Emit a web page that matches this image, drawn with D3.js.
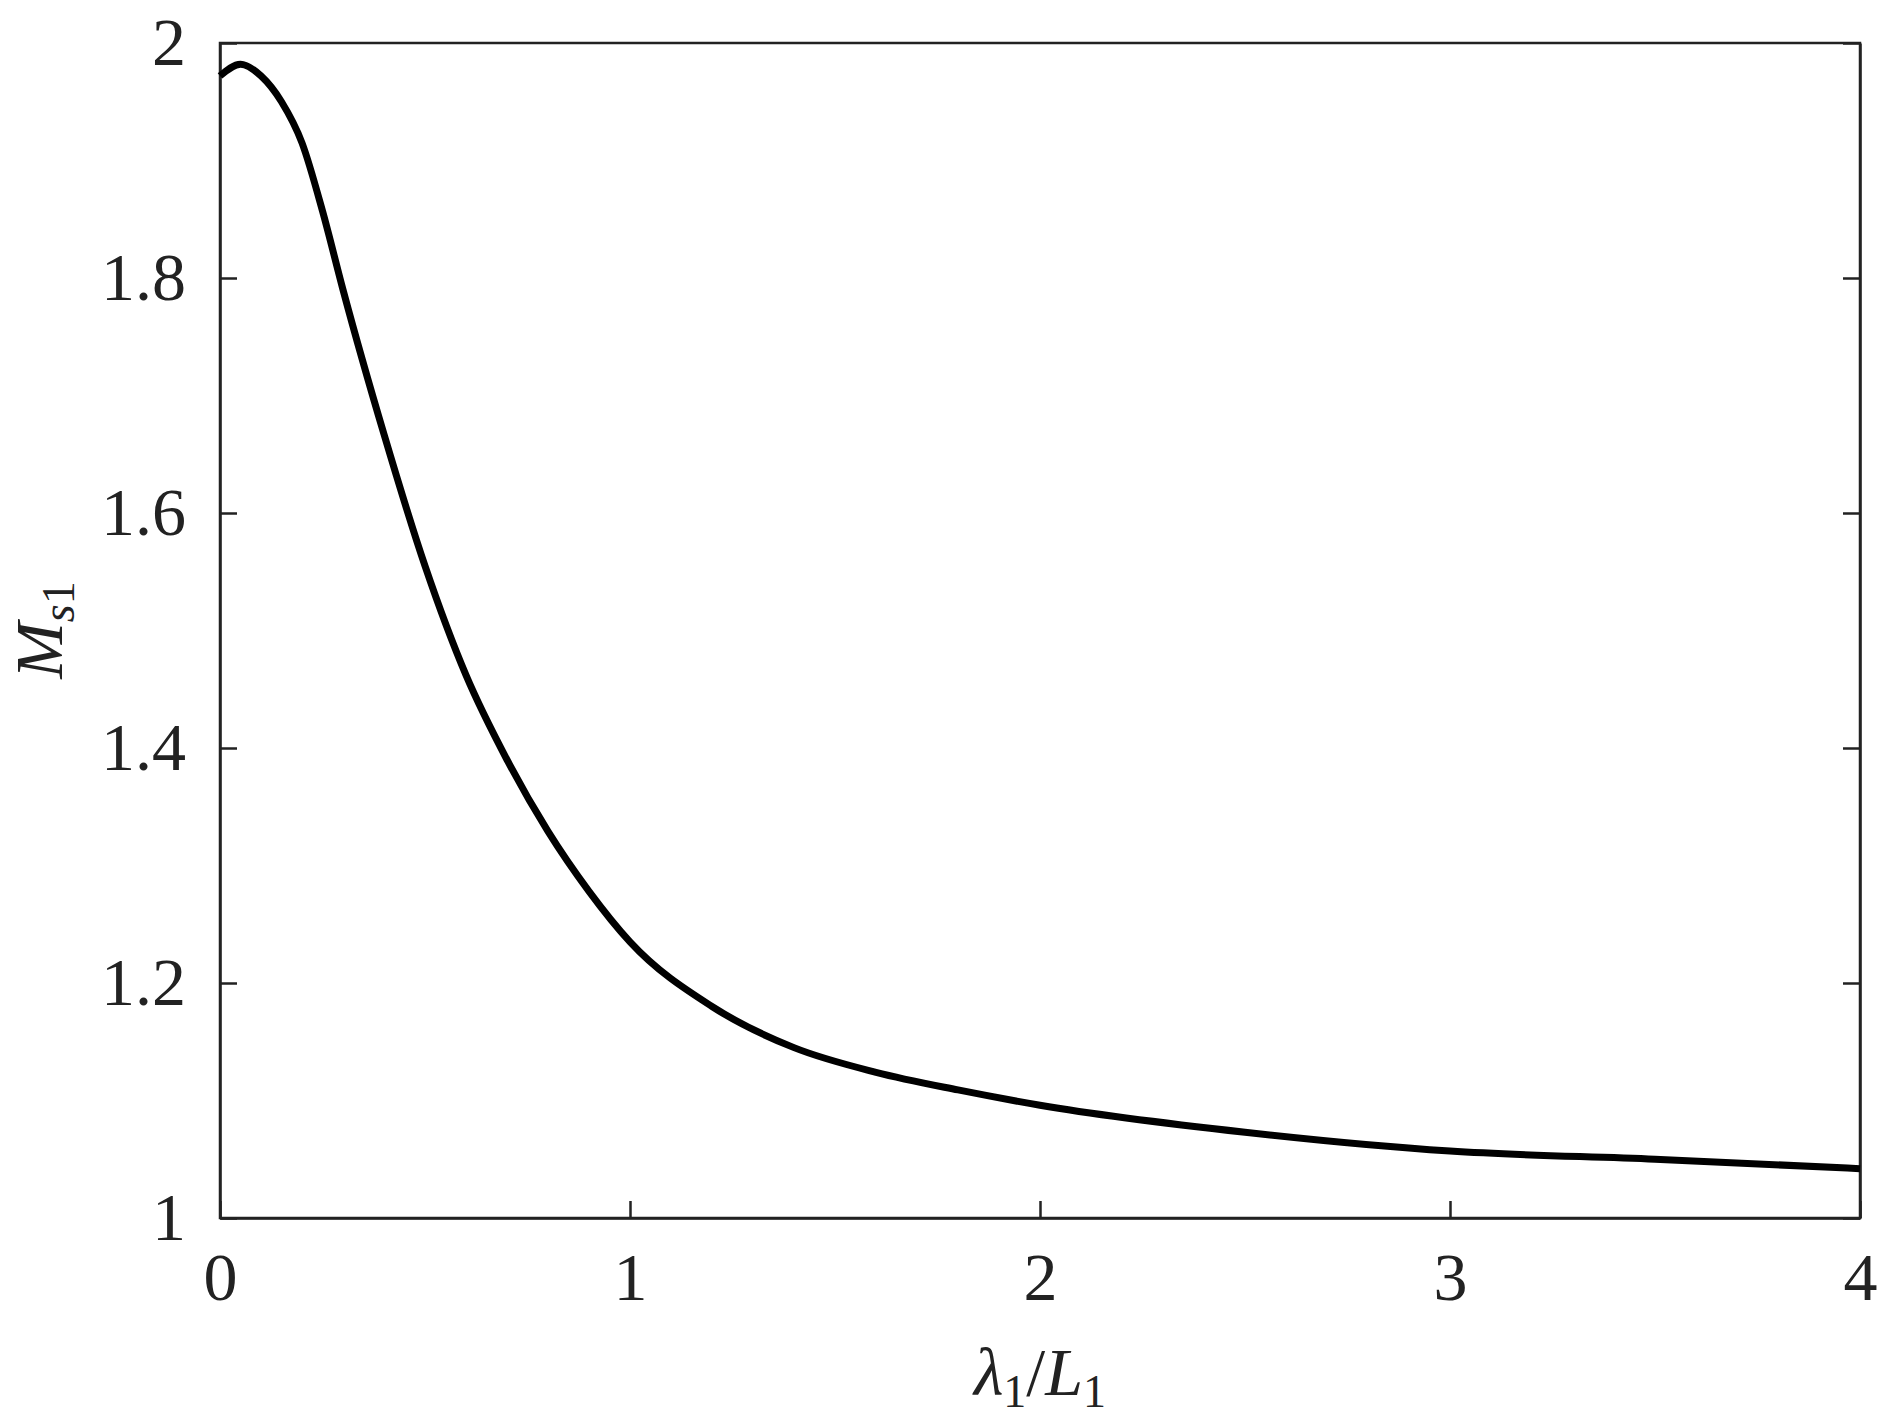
<!DOCTYPE html><html><head><meta charset="utf-8"><script src="https://cdn.jsdelivr.net/npm/d3@7"></script>
<style>body{margin:0;background:#fff}text{font-family:"Liberation Serif","Times New Roman",serif;fill:#222}</style></head><body><svg id="c" width="1888" height="1422"></svg><script>
const xVals=[0,0.05,0.1,0.15,0.2,0.25,0.3,0.4,0.5,0.6,0.7,0.8,0.9,1.0,1.2,1.4,1.6,1.8,2.0,2.5,3.0,3.5,4.0];
const yVals=[1.972,1.982,1.972,1.95,1.915,1.857,1.79,1.667,1.555,1.462,1.39,1.329,1.278,1.235,1.18,1.145,1.124,1.109,1.096,1.073,1.057,1.05,1.042];
const xTicks=[0,1,2,3,4];
const yTicks=[1,1.2,1.4,1.6,1.8,2];
const svg=d3.select("#c");
const L=220,R=1860,T=43,B=1218;
const x=d3.scaleLinear().domain([0,4]).range([L,R]);
const y=d3.scaleLinear().domain([1,2]).range([B,T]);
const fmt=d=>d===0||d===1||d===2||d===3||d===4?String(d):d3.format(".1f")(d);
svg.append("g").attr("transform",`translate(0,${B})`).call(d3.axisBottom(x).tickValues(xTicks).tickFormat(fmt).tickSizeInner(-17).tickSizeOuter(0).tickPadding(34));
svg.append("g").attr("transform",`translate(${L},0)`).call(d3.axisLeft(y).tickValues(yTicks).tickFormat(fmt).tickSizeInner(-17).tickSizeOuter(0).tickPadding(34));
svg.append("g").attr("transform",`translate(${R},0)`).call(d3.axisRight(y).tickValues(yTicks).tickFormat("").tickSizeInner(-17).tickSizeOuter(0));
svg.selectAll(".domain,.tick line").attr("stroke","#222").attr("stroke-width",2.5);
svg.selectAll(".tick text").attr("font-size",68).style("font-family","Liberation Serif").attr("fill","#222");
svg.append("rect").attr("x",L).attr("y",T).attr("width",R-L).attr("height",B-T).attr("fill","none").attr("stroke","#222").attr("stroke-width",2.5);
svg.append("path").datum(xVals.map((v,i)=>[v,yVals[i]])).attr("fill","none").attr("stroke","#000").attr("stroke-width",7)
 .attr("d",d3.line().x(d=>x(d[0])).y(d=>y(d[1])).curve(d3.curveMonotoneX));
const xl=svg.append("text").attr("x",1040).attr("y",1395).attr("text-anchor","middle").attr("font-size",68);
xl.append("tspan").attr("font-style","italic").text("λ");
xl.append("tspan").attr("font-size",46).attr("dy",12).text("1");
xl.append("tspan").attr("dy",-12).text("/");
xl.append("tspan").attr("font-style","italic").text("L");
xl.append("tspan").attr("font-size",46).attr("dy",12).text("1");
const yl=svg.append("text").attr("transform","translate(62,630) rotate(-90)").attr("text-anchor","middle").attr("font-size",68);
yl.append("tspan").attr("font-style","italic").text("M");
yl.append("tspan").attr("font-style","italic").attr("font-size",46).attr("dy",12).text("s");
yl.append("tspan").attr("font-size",46).text("1");
</script></body></html>
